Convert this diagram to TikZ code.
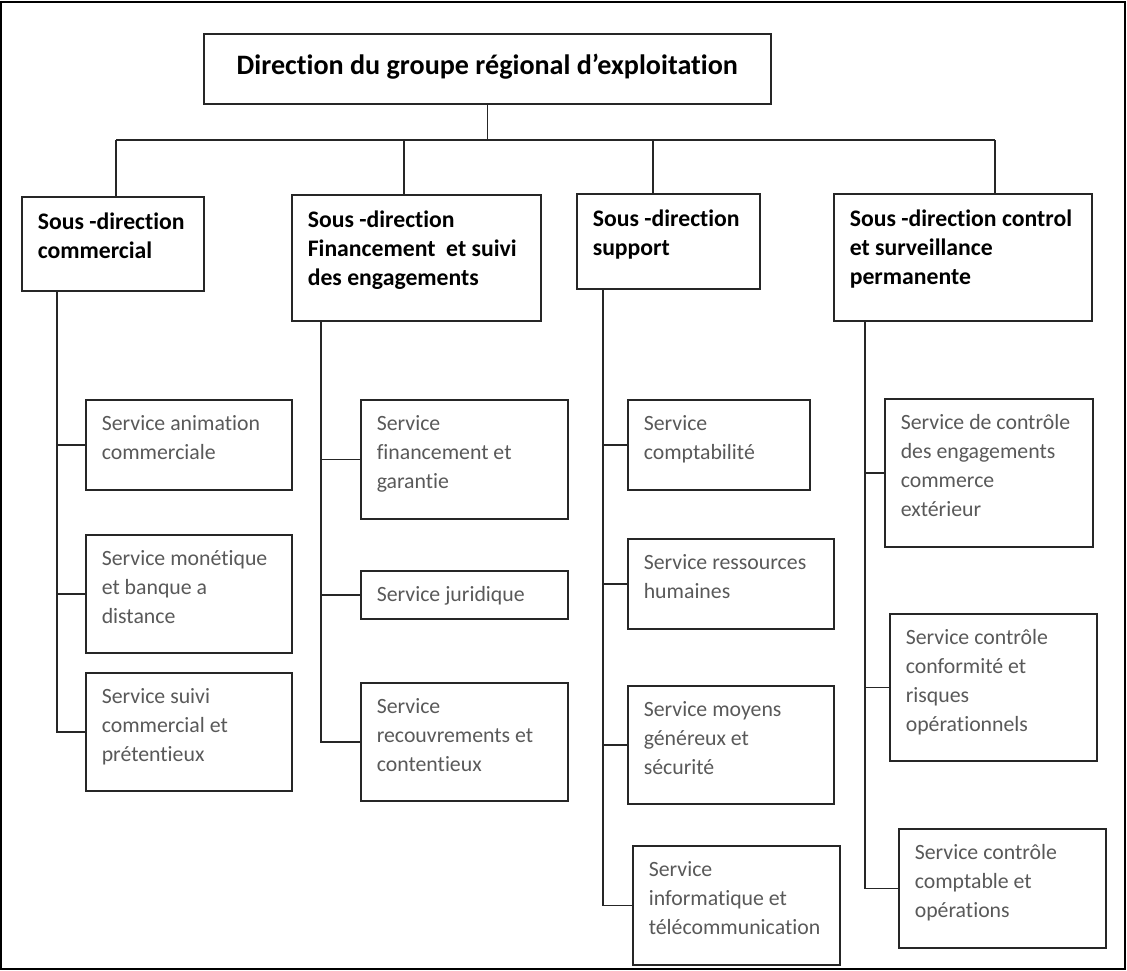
\documentclass[tikz,border=0pt]{standalone}
\usepackage{fontspec}
\setmainfont{Carlito}[Ligatures={TeX,NoCommon}]
\usepackage{tikz}
\usetikzlibrary{positioning}
\newlength{\pu}\setlength{\pu}{0.02cm}
% boite de texte calee en haut
\newcommand{\cadre}[3]{\parbox[c][#2\pu][t]{\dimexpr#1\pu-32\pu\relax}{\raggedright\vspace*{16\pu}#3}}
\definecolor{gristxt}{HTML}{595959}
\definecolor{trait}{HTML}{262626}
\tikzstyle{titre} = [draw=trait, line width=0.9pt, anchor=north west, inner sep=0pt, text=black, font=\bfseries\fontsize{16}{19}\selectfont]
\tikzstyle{sd} = [draw=trait, line width=0.9pt, anchor=north west, inner xsep=0.32cm, inner ysep=0pt, text=black, font=\bfseries\fontsize{13.5}{16.5}\selectfont]
\tikzstyle{svc} = [sd, text=gristxt, font=\fontsize{12.4}{16.4}\selectfont]
\tikzstyle{lien} = [draw=trait, line width=0.9pt]

\begin{document}
\begin{tikzpicture}[x=0.02cm, y=-0.02cm]
\useasboundingbox (0,0) rectangle (1127,971);
\draw[line width=1.2pt] (1,2) rectangle (1125,969);

\node[titre] (dir) at (203,33) {\parbox[c][70\pu][t]{567\pu}{\centering\vspace*{20\pu}Direction du groupe régional d’exploitation}};

% sous-directions
\node[sd] (sd1) at (21,196) {\cadre{182}{94}{Sous -direction\\commercial}};
\node[sd] (sd2) at (291,194) {\cadre{249}{126}{Sous -direction\\Financement\ \ et suivi\\des engagements}};
\node[sd] (sd3) at (576,193) {\cadre{183}{95}{Sous -direction\\support}};
\node[sd] (sd4) at (833,193) {\cadre{258}{127}{Sous -direction control\\et surveillance\\permanente}};

% services
\node[svc] (s11) at (85,399) {\cadre{206}{90}{Service animation\\commerciale}};
\node[svc] (s12) at (85,534) {\cadre{206}{118}{Service monétique\\et banque a\\distance}};
\node[svc] (s13) at (85,672) {\cadre{206}{118}{Service suivi\\commercial et\\prétentieux}};

\node[svc] (s21) at (360,399) {\cadre{207}{119}{Service\\financement et\\garantie}};
\node[svc] (s22) at (360,570) {\cadre{207}{48}{Service juridique}};
\node[svc] (s23) at (360,682) {\cadre{207}{118}{Service\\recouvrements et\\contentieux}};

\node[svc] (s31) at (627,399) {\cadre{182}{90}{Service\\comptabilité}};
\node[svc] (s32) at (627,538) {\cadre{206}{90}{Service ressources\\humaines}};
\node[svc] (s33) at (627,685) {\cadre{206}{118}{Service moyens\\généreux et\\sécurité}};
\node[svc] (s34) at (632,845) {\cadre{207}{119}{Service\\informatique et\\télécommunication}};

\node[svc] (s41) at (884,398) {\cadre{208}{148}{Service de contrôle\\des engagements\\commerce\\extérieur}};
\node[svc] (s42) at (889,613) {\cadre{207}{147}{Service contrôle\\conformité et\\risques\\opérationnels}};
\node[svc] (s43) at (898,828) {\cadre{207}{119}{Service contrôle\\comptable et\\opérations}};

% liaisons du haut
\coordinate (b1) at (116,140);
\coordinate (b2) at (404,140);
\coordinate (b3) at (653,140);
\coordinate (b4) at (995,140);
\draw[lien] (dir.south) -- (dir.south |- b1);
\draw[lien] (b1) -- (b4);
\foreach \i in {1,...,4}
  \draw[lien] (b\i) -- (b\i |- sd\i.north);

% colonnes
\coordinate (v1) at (57,0);
\coordinate (v2) at (321,0);
\coordinate (v3) at (603,0);
\coordinate (v4) at (865,0);
\draw[lien] (v1 |- sd1.south) -- (v1 |- s13.west) -- (s13.west);
\draw[lien] (v2 |- sd2.south) -- (v2 |- s23.west) -- (s23.west);
\draw[lien] (v3 |- sd3.south) -- (v3 |- s34.west) -- (s34.west);
\draw[lien] (v4 |- sd4.south) -- (v4 |- s43.west) -- (s43.west);
\foreach \s in {s11,s12}
  \draw[lien] (v1 |- \s.west) -- (\s.west);
\foreach \s in {s21,s22}
  \draw[lien] (v2 |- \s.west) -- (\s.west);
\foreach \s in {s31,s32,s33}
  \draw[lien] (v3 |- \s.west) -- (\s.west);
\foreach \s in {s41,s42}
  \draw[lien] (v4 |- \s.west) -- (\s.west);
\end{tikzpicture}
\end{document}
